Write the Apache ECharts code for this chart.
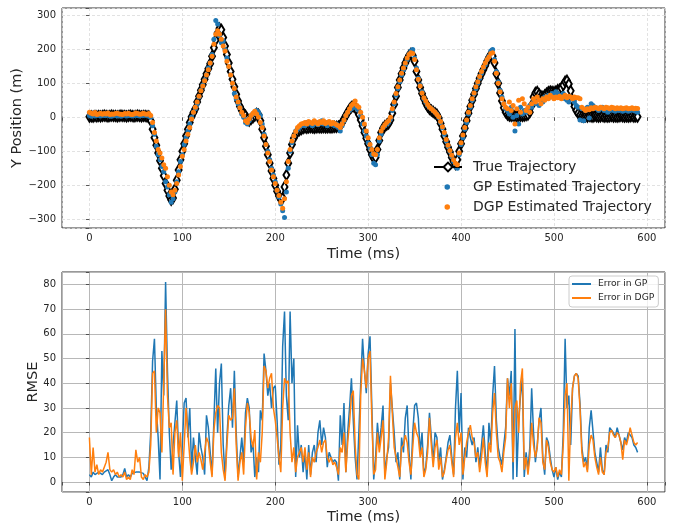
<!DOCTYPE html>
<html>
<head>
<meta charset="utf-8">
<script src="https://cdn.jsdelivr.net/npm/echarts@6/dist/echarts.min.js"></script>
<style>
html,body{margin:0;padding:0;background:#fff;}
#chart{width:677px;height:524px;}
</style>
</head>
<body>
<div id="chart"></div>
<script>
// Sampling step of all series (ms)
const STEP_MS = 2;

// True trajectory, Y position (m), every 2 ms from 0 to 590
const trueY = [
  2,3,2,4,3,4,3,4,5,4,
  3,4,5,4,4,3,4,5,4,4,
  3,4,5,4,3,4,5,4,3,4,
  4,3,3,-10,-35,-60,-82,-105,-128,-150,
  -172,-195,-215,-232,-243,-238,-212,-185,-155,-125,
  -100,-78,-55,-35,-15,2,14,25,45,62,
  80,96,112,128,143,158,180,205,228,248,
  262,258,235,210,185,160,135,112,90,68,
  48,32,20,10,5,-5,-10,-5,0,5,
  10,8,-10,-35,-60,-85,-110,-135,-158,-180,
  -200,-218,-232,-242,-238,-205,-170,-135,-105,-80,
  -62,-50,-42,-38,-35,-32,-30,-31,-30,-29,
  -30,-31,-30,-29,-30,-30,-29,-30,-30,-29,
  -30,-29,-28,-28,-27,-24,-15,-5,5,15,
  24,30,33,30,20,8,-8,-25,-45,-62,
  -78,-95,-110,-120,-118,-95,-68,-45,-32,-26,
  -22,-18,-8,12,38,62,88,110,128,145,
  160,172,182,187,182,165,135,110,88,70,
  55,42,32,25,20,16,12,8,-2,-18,
  -35,-55,-72,-88,-102,-118,-130,-138,-125,-100,
  -78,-55,-32,-10,12,32,50,68,85,100,
  115,128,140,152,165,176,184,180,160,128,
  100,72,48,28,15,8,5,4,5,4,
  3,4,5,4,5,6,8,15,35,60,
  72,75,68,62,60,65,70,74,76,75,
  74,76,80,82,86,95,105,108,98,78,
  50,32,20,12,6,3,2,3,2,4,
  3,2,4,3,2,3,4,2,3,2,
  3,4,2,3,2,3,4,3,2,3,
  2,3,4,2,3,2
];

// GP estimated trajectory (m)
const gpY = [
  5,3,6,4,5,7,4,6,5,5,
  8,4,3,5,6,4,5,3,5,7,
  4,5,6,4,5,6,5,4,6,5,
  7,5,3,0,-25,-50,-85,-110,-125,-145,
  -160,-190,-205,-228,-250,-240,-220,-190,-160,-130,
  -110,-80,-60,-40,-20,0,15,25,40,60,
  80,95,110,125,145,160,185,230,285,275,
  240,220,225,200,175,150,125,100,70,55,
  40,30,10,0,-15,-20,-10,5,10,15,
  20,15,5,-20,-50,-80,-100,-125,-150,-170,
  -190,-215,-235,-255,-275,-295,-220,-150,-100,-75,
  -55,-40,-35,-30,-25,-20,-25,-15,-20,-18,
  -25,-20,-15,-22,-18,-10,-20,-15,-25,-20,
  -18,-22,-25,-20,-30,-40,-25,-10,5,15,
  20,25,30,30,25,20,5,-20,-40,-55,
  -75,-90,-110,-135,-140,-110,-70,-50,-30,-25,
  -20,-15,-5,20,40,65,85,105,125,140,
  155,170,185,195,200,175,145,115,95,75,
  55,45,35,30,25,20,15,10,0,-15,
  -30,-50,-70,-85,-100,-115,-130,-145,-150,-110,
  -80,-60,-35,-15,10,30,50,70,85,100,
  115,130,145,155,170,180,195,200,170,135,
  105,80,60,40,25,20,10,30,0,-40,
  5,-20,30,10,20,15,25,35,30,45,
  40,55,35,50,45,60,55,65,60,70,
  65,75,70,60,65,70,55,50,45,60,
  55,45,35,30,-8,25,-10,20,30,-2,
  40,35,30,25,20,25,30,20,25,15,
  20,25,20,18,22,20,25,18,20,22,
  18,20,25,20,18,15
];

// DGP estimated trajectory (m)
const dgpY = [
  15,12,10,14,8,10,12,9,11,10,
  13,8,10,9,11,12,10,9,8,11,
  10,12,9,8,10,13,11,9,10,12,
  10,9,11,5,-15,-45,-70,-95,-105,-120,
  -140,-150,-175,-200,-220,-228,-215,-195,-170,-145,
  -115,-95,-70,-50,-30,-5,15,30,45,62,
  78,92,108,125,140,160,180,215,245,255,
  245,230,210,195,165,150,125,100,85,60,
  45,28,15,5,-10,-15,-5,5,12,18,
  10,0,-15,-30,-55,-80,-105,-130,-155,-175,
  -195,-215,-230,-250,-268,-240,-190,-130,-95,-70,
  -55,-42,-30,-25,-20,-18,-15,-20,-12,-15,
  -18,-10,-15,-20,-12,-15,-10,-18,-15,-12,
  -20,-15,-18,-22,-25,-30,-20,-8,5,15,
  25,35,40,48,35,30,15,0,-20,-40,
  -60,-80,-95,-108,-110,-95,-60,-40,-30,-22,
  -15,-10,0,25,45,70,90,110,130,145,
  160,175,185,190,188,170,140,112,92,72,
  58,48,38,30,25,20,15,8,2,-12,
  -28,-45,-65,-82,-98,-112,-125,-135,-140,-105,
  -75,-52,-30,-8,15,35,55,72,90,105,
  120,135,148,160,170,178,188,190,165,130,
  100,75,55,40,30,25,45,20,35,-20,
  25,50,15,55,40,20,30,15,40,55,
  45,60,50,40,55,50,60,55,65,60,
  55,60,58,62,55,60,65,58,62,60,
  55,60,58,58,55,30,25,20,25,22,
  28,25,30,28,25,30,28,25,30,28,
  25,30,28,25,28,26,28,25,27,28,
  25,26,28,25,27,26
];

// RMSE of GP
const gpErr = [
  3,2,4,3,3.5,4,4,3,4,4.5,
  5,3,0.5,2,3,2,1.5,2,3,5.5,
  2,3,2,3.5,4,4,3.5,4,4,3.5,
  4,0.5,6,20,49,58,30,18,1,53,
  35,81,45,20,5,15,24,33,12,2,
  15,32,34,18,30,5,18,10,3,20,
  14,10,3,27,22,12,3,25,46,20,
  40,48,15,2,18,31,38,22,45,20,
  2,10,18,8,28,34,30,12,16,2,
  10,4,29,25,52,45,35,40,30,38,
  39,25,7,15,55,69,35,25,69,40,
  50,2,23,10,15,4,12,1,15,3,
  12,15,8,20,25,15,22,18,6,12,
  10,8,9,8,0.5,27,15,32,4,20,
  30,42,25,10,1,20,40,58,45,36,
  52,59,30,1,10,24,15,22,31,3,
  10,14,40,30,20,8,12,1,18,12,
  26,31,12,1,20,31,32,26,12,20,
  3,6,15,28,18,8,20,18,8,14,
  1,5,10,16,19,10,3,30,45,20,
  36,1,14,10,22,18,15,18,8,14,
  6,15,23,12,3,24,15,35,47,25,
  14,10,7,15,22,42,35,45,1,62,
  2,25,35,42,2,12,5,14,38,20,
  8,15,25,30,10,3,18,16,10,5,
  2,6,1,4,2,20,58,30,35,15,
  38,43,44,43,32,14,8,10,5,22,
  29,29,12,8,4,14,5,3,15,12,
  22,22,20,18,22,22,16,13,18,16,
  20,20,18,15,14,12
];

// RMSE of DGP
const dgpErr = [
  18,3,14,4,7,3,5,4,6,8,
  12,5,4,5,3,4,2,3,2,4,
  1,2,1,5,3,13,8,10,2,1,
  3,2,4,15,44,45,20,30,28,12,
  40,70,35,22,24,3,20,25,10,20,
  0.5,15,30,20,10,3,8,15,8,12,
  9,5,12,18,16,8,2,21,28,31,
  30,12,5,0.5,15,27,25,26,38,15,
  0.5,8,12,3,22,32,28,18,14,21,
  1,12,8,20,47,45,38,42,44,30,
  25,18,10,4,30,42,40,41,20,8,
  14,4,10,12,14,8,14,5,12,2,
  10,8,12,14,17,12,16,17,10,8,
  10,7,8,6,3,14,12,20,4,16,
  24,35,37,15,3,1,35,50,45,38,
  50,53,25,3,5,20,12,18,25,1,
  8,18,43,28,14,10,6,2,14,15,
  19,16,8,3,14,24,20,18,10,14,
  2,5,12,26,15,6,14,17,5,10,
  2,4,9,13,15,8,2,18,24,15,
  20,3,10,16,20,23,18,16,10,12,
  4,10,18,8,2,16,12,28,36,20,
  10,8,4,12,18,42,30,40,8,30,
  33,20,40,46,5,10,3,10,24,15,
  10,14,26,24,8,5,17,14,8,5,
  4,6,2,5,3,15,35,40,0.5,25,
  38,43,44,42,30,12,6,8,4,15,
  19,17,10,6,3,10,4,3,12,14,
  20,21,19,18,20,19,16,9,17,15,
  18,22,19,16,15,16
];

const xTicks = [0, 100, 200, 300, 400, 500, 600];
const yTopTicks = [-300, -200, -100, 0, 100, 200, 300];
const yBotTicks = [0, 10, 20, 30, 40, 50, 60, 70, 80];

const pair = arr => arr.map((v, i) => [i * STEP_MS, v]);

const FONT = 'DejaVu Sans';
const TXT = '#262626';
const fmt = ticks => v => ticks.indexOf(Math.round(v * 1000) / 1000) >= 0 ? String(v).replace('-', '\u2212') : '';

function xAxis(gridIndex, dashed) {
  return {
    type: 'value', gridIndex, min: -29.5, max: 619.5, splitNumber: 6,
    name: 'Time (ms)', nameLocation: 'middle', nameGap: gridIndex === 0 ? 19 : 18,
    nameMoveOverlap: false,
    nameTextStyle: {fontFamily: FONT, fontSize: 14.5, color: TXT},
    axisLine: {show: false},
    axisTick: {show: true, length: 3.5, lineStyle: {color: '#333', width: 0.8}},
    axisLabel: {fontFamily: FONT, fontSize: 10, color: TXT, margin: 5, formatter: fmt(xTicks)},
    splitLine: {show: true, lineStyle: dashed ? {color: '#dadada', type: [3, 2], width: 0.8} : {color: '#b8b8b8', width: 1}}
  };
}

const option = {
  animation: false,
  backgroundColor: '#fff',
  textStyle: {fontFamily: FONT},
  grid: [
    {left: 62, right: 12, top: 8, height: 220, containLabel: false, outerBoundsMode: 'none',
     show: true, borderColor: '#333', borderWidth: 1, backgroundColor: 'transparent'},
    {left: 62, right: 12, top: 272, height: 220, containLabel: false, outerBoundsMode: 'none',
     show: true, borderColor: '#333', borderWidth: 1, backgroundColor: 'transparent'}
  ],
  xAxis: [xAxis(0, true), xAxis(1, false)],
  yAxis: [
    {
      type: 'value', gridIndex: 0, min: -326, max: 322, splitNumber: 6,
      name: 'Y Position (m)', nameLocation: 'middle', nameGap: 37, nameMoveOverlap: false,
      nameTextStyle: {fontFamily: FONT, fontSize: 14.5, color: TXT},
      axisLine: {show: false},
      axisTick: {show: true, length: 3.5, lineStyle: {color: '#333', width: 0.8}},
      axisLabel: {fontFamily: FONT, fontSize: 10, color: TXT, margin: 6, formatter: fmt(yTopTicks)},
      splitLine: {show: true, lineStyle: {color: '#dadada', type: [3, 2], width: 0.8}}
    },
    {
      type: 'value', gridIndex: 1, min: -4.05, max: 85.05, splitNumber: 9,
      name: 'RMSE', nameLocation: 'middle', nameGap: 21, nameMoveOverlap: false,
      nameTextStyle: {fontFamily: FONT, fontSize: 14.5, color: TXT},
      axisLine: {show: false},
      axisTick: {show: true, length: 3.5, lineStyle: {color: '#333', width: 0.8}},
      axisLabel: {fontFamily: FONT, fontSize: 10, color: TXT, margin: 6, formatter: fmt(yBotTicks)},
      splitLine: {show: true, lineStyle: {color: '#b8b8b8', width: 1}}
    }
  ],
  legend: [
    {
      data: ['True Trajectory'], left: 433, top: 157, padding: 0, itemGap: 0,
      itemWidth: 28, itemHeight: 11,
      textStyle: {fontFamily: FONT, fontSize: 14, color: TXT, lineHeight: 20, padding: [0, 0, 0, 6]}
    },
    {
      data: [{name: 'GP Estimated Trajectory', icon: 'circle'}, {name: 'DGP Estimated Trajectory', icon: 'circle'}],
      orient: 'vertical',
      left: 444.5, top: 177, padding: 0, itemGap: 0, itemWidth: 5.5, itemHeight: 5.5,
      textStyle: {fontFamily: FONT, fontSize: 14, color: TXT, lineHeight: 20, padding: [0, 0, 0, 18]}
    },
    {
      data: [{name: 'Error in GP', icon: 'rect'}, {name: 'Error in DGP', icon: 'rect'}], orient: 'vertical',
      left: 569, top: 276, padding: [1, 4, 2, 3], itemGap: 0, itemWidth: 19, itemHeight: 2,
      backgroundColor: 'rgba(255,255,255,0.8)', borderColor: '#cccccc', borderWidth: 1, borderRadius: 3,
      textStyle: {fontFamily: FONT, fontSize: 9.2, color: TXT, lineHeight: 14, padding: [0, 0, 0, 2]}
    }
  ],
  series: [
    {
      name: 'True Trajectory', type: 'line', xAxisIndex: 0, yAxisIndex: 0,
      data: pair(trueY), symbol: 'emptyDiamond', symbolSize: [6, 10], showAllSymbol: true,
      lineStyle: {color: '#000', width: 1.5}, itemStyle: {color: '#000', borderWidth: 1.2},
      z: 2
    },
    {
      name: 'GP Estimated Trajectory', type: 'scatter', xAxisIndex: 0, yAxisIndex: 0,
      data: pair(gpY), symbol: 'circle', symbolSize: 5, itemStyle: {color: '#1f77b4', opacity: 1}, z: 3
    },
    {
      name: 'DGP Estimated Trajectory', type: 'scatter', xAxisIndex: 0, yAxisIndex: 0,
      data: pair(dgpY), symbol: 'circle', symbolSize: 5, itemStyle: {color: '#ff7f0e', opacity: 1}, z: 4
    },
    {
      name: 'Error in GP', type: 'line', xAxisIndex: 1, yAxisIndex: 1,
      data: pair(gpErr), symbol: 'none', lineStyle: {color: '#1f77b4', width: 1.5},
      itemStyle: {color: '#1f77b4'}, z: 3
    },
    {
      name: 'Error in DGP', type: 'line', xAxisIndex: 1, yAxisIndex: 1,
      data: pair(dgpErr), symbol: 'none', lineStyle: {color: '#ff7f0e', width: 1.5},
      itemStyle: {color: '#ff7f0e'}, z: 4
    }
  ]
};

const chart = echarts.init(document.getElementById('chart'), null, {renderer: 'canvas'});
chart.setOption(option);
</script>
</body>
</html>
